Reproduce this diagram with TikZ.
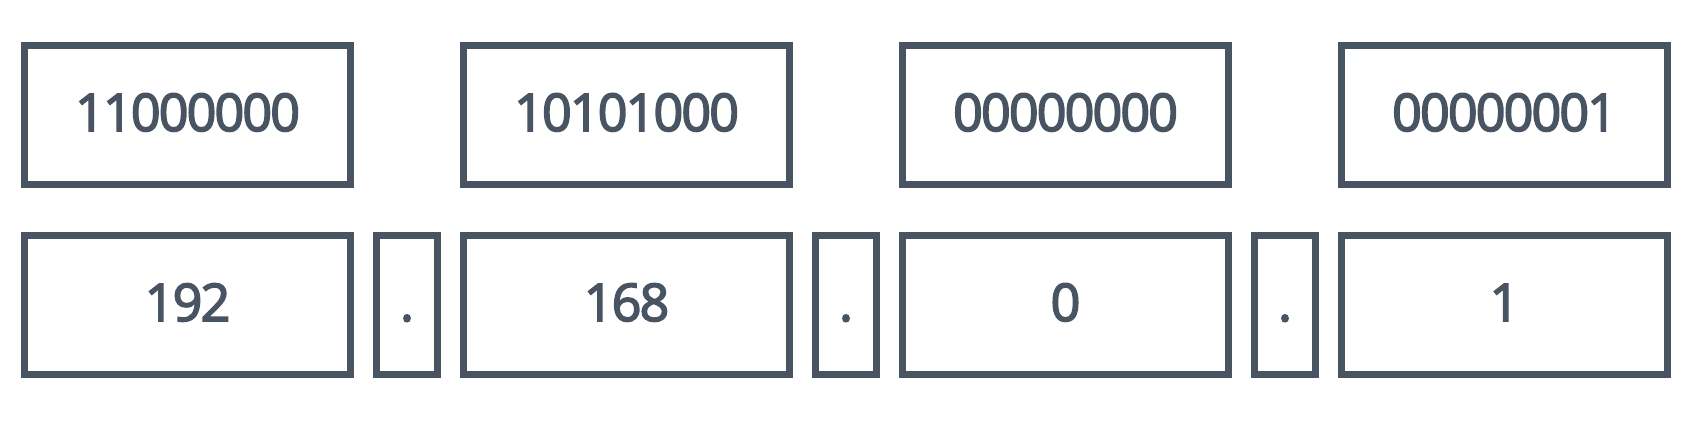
\documentclass[tikz,border=0pt]{standalone}
\usepackage{fontspec}
\newfontfamily\numfont{Open Sans}[FakeBold=3,LetterSpace=-3.6]
\definecolor{slate}{RGB}{72,84,97}
\begin{document}
\begin{tikzpicture}[x=1pt,y=1pt,
  cell/.style={draw=slate, line width=6.6pt, fill=white, inner sep=0pt, outer sep=0pt,
    minimum width=326.4pt, minimum height=139.4pt, text=slate,
    font=\numfont\fontsize{52}{60}\selectfont, text height=38pt, text depth=6pt},
  sep/.style={cell, minimum width=61.4pt}]
\useasboundingbox (0,0) rectangle (1692,421);
\node[cell] (b1) at (187.5,306) {11000000};
\node[cell] (b2) at (626.5,306) {10101000};
\node[cell] (b3) at (1065.5,306) {00000000};
\node[cell] (b4) at (1504.5,306) {00000001};
\node[cell] (d1) at (187.5,116) {192};
\node[sep]  (s1) at (407,116) {.};
\node[cell] (d2) at (626.5,116) {168};
\node[sep]  (s2) at (846,116) {.};
\node[cell] (d3) at (1065.5,116) {0};
\node[sep]  (s3) at (1285,116) {.};
\node[cell] (d4) at (1504.5,116) {1};
\end{tikzpicture}
\end{document}
